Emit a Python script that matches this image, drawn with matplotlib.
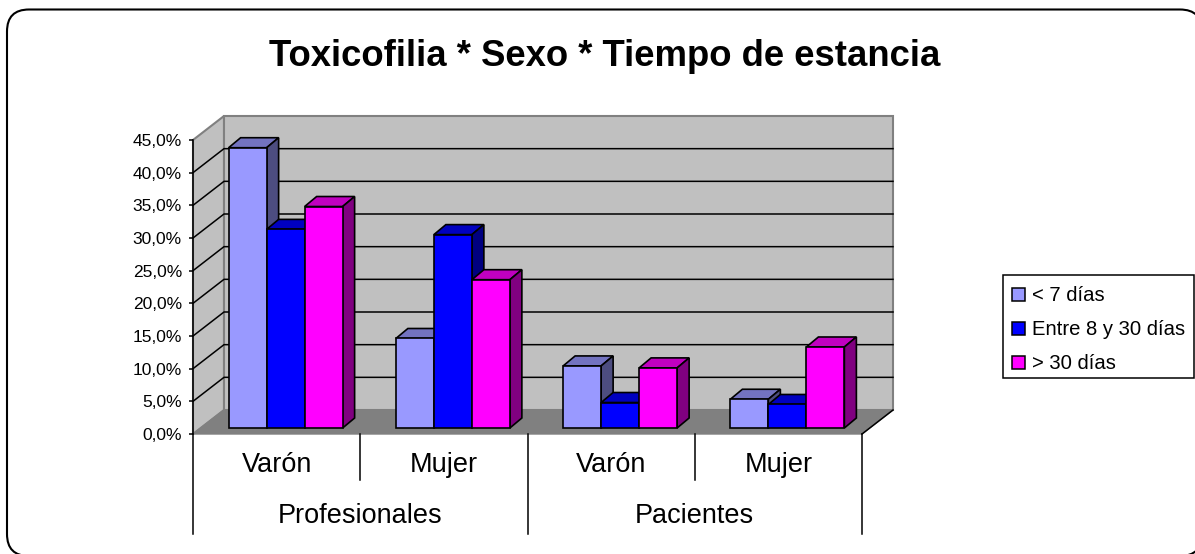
import matplotlib
matplotlib.use('Agg')
import matplotlib.pyplot as plt
from matplotlib.patches import Polygon, Rectangle, BoxStyle
from matplotlib.transforms import IdentityTransform

W, H = 1195, 554

groups = ['Profesionales', 'Pacientes']
sexes = ['Varón', 'Mujer', 'Varón', 'Mujer']
series_names = ['< 7 días', 'Entre 8 y 30 días', '> 30 días']
menos_7 = [42.9, 13.7, 9.5, 4.4]
entre_8_30 = [30.4, 29.6, 3.9, 3.6]
mas_30 = [33.9, 22.7, 9.2, 12.4]
yticks = [0, 5, 10, 15, 20, 25, 30, 35, 40, 45]
ytick_labels = ['0,0%', '5,0%', '10,0%', '15,0%', '20,0%', '25,0%', '30,0%', '35,0%', '40,0%', '45,0%']

# front, top, side colours of each series
colors = [('#9999FF', '#7373C0', '#4D4D80'),
          ('#0000FF', '#0000C0', '#000080'),
          ('#FF00FF', '#C000C0', '#800080')]

plt.rcParams['font.family'] = ['Liberation Sans', 'DejaVu Sans']

fig = plt.figure(figsize=(W / 100, H / 100), dpi=100)
# the axes is the front plane of the 3d box
left, right, bottom, top = 193, 862, 434, 140
ax = fig.add_axes([left / W, 1 - bottom / H, (right - left) / W, (bottom - top) / H])
ax.set_xlim(0, 4)
ax.set_ylim(0, 45)
ax.patch.set_visible(False)

# pixel to data sizes
px = 4 / (right - left)
py = 45 / (bottom - top)
dx, dy = 31 * px, 24 * py  # depth of the box
bx, by = 12 * px, 10 * py  # depth of one bar
off_x, off_y = 9 * px, 6 * py  # bars sit a bit inside the floor
bar_w = 38 * px


def poly(points, fc, ec='none', lw=0, z=1):
    ax.add_patch(Polygon(points, closed=True, facecolor=fc, edgecolor=ec, linewidth=lw,
                         zorder=z, clip_on=False, joinstyle='miter'))


# walls and floor
poly([(0, 0), (dx, dy), (dx, 45 + dy), (0, 45)], '#C0C0C0', '#808080', 1.5)
poly([(dx, dy), (4 + dx, dy), (4 + dx, 45 + dy), (dx, 45 + dy)], '#C0C0C0', '#808080', 1.5)
poly([(0, 0), (dx, dy), (4 + dx, dy), (4, 0)], '#808080', '#808080', 1)

# gridlines on the walls
for t in yticks[1:-1]:
    ax.plot([0, dx, 4 + dx], [t, t + dy, t + dy], color='black', lw=1.1, zorder=2, clip_on=False)
ax.plot([4, 4 + dx], [0, dy], color='black', lw=1.1, zorder=2, clip_on=False)

# bars, back to front from left to right
for i in range(4):
    vals = [menos_7[i], entre_8_30[i], mas_30[i]]
    x0 = i + 0.5 + off_x - 1.5 * bar_w
    for j, v in enumerate(vals):
        xa = x0 + j * bar_w
        xb = xa + bar_w
        base = off_y
        front, top_c, side = colors[j]
        z = 3 + i + j * 0.1
        poly([(xa, v + base), (xa + bx, v + base + by), (xb + bx, v + base + by), (xb, v + base)],
             top_c, 'black', 1.2, z)
        poly([(xb, base), (xb + bx, base + by), (xb + bx, v + base + by), (xb, v + base)],
             side, 'black', 1.2, z)
        ax.bar(xa, v, width=bar_w, bottom=base, align='edge', color=front, edgecolor='black',
               linewidth=1.2, zorder=z + 0.01, clip_on=False)

# y axis
ax.set_yticks(yticks)
ax.set_yticklabels(ytick_labels, fontsize=12.5, color='black')
ax.tick_params(axis='y', length=3, width=1.1, pad=5)
ax.set_xticks([])
for s in ['top', 'right', 'bottom']:
    ax.spines[s].set_visible(False)
ax.spines['left'].set_linewidth(1.1)
ax.spines['left'].set_zorder(2.5)

# two level category axis
lvl1 = 46 * py
lvl2 = 100 * py
for x in [0, 2, 4]:
    ax.plot([x, x], [0, -lvl2], color='black', lw=1.1, clip_on=False)
for x in [1, 3]:
    ax.plot([x, x], [0, -lvl1], color='black', lw=1.1, clip_on=False)
for i, name in enumerate(sexes):
    ax.text(i + 0.5, -31 * py, name, ha='center', va='center', fontsize=19.5)
for i, name in enumerate(groups):
    ax.text(2 * i + 1, -82 * py, name, ha='center', va='center', fontsize=19.5)

# outer rounded frame, runs off the canvas on the right and at the bottom
# flattened to a polygon, agg bends the curves badly when they leave the canvas
frame = BoxStyle('Round', pad=0, rounding_size=22)(7, H - 556, 1195, 546.5, 1)
fig.add_artist(Polygon(frame.to_polygons()[0], closed=True, transform=IdentityTransform(),
                       facecolor='none', edgecolor='black', linewidth=1.5))

fig.text(604.5 / W, 1 - 56 / H, 'Toxicofilia * Sexo * Tiempo de estancia', ha='center', va='center',
         fontsize=26.3, fontweight='bold')

# legend box, placed by hand because the rows are not centred in it
fig.add_artist(Rectangle((1003, H - 378), 191, 103, transform=IdentityTransform(),
                         facecolor='white', edgecolor='black', linewidth=1.1))
for j, name in enumerate(series_names):
    base_y = 301 + 34 * j
    fig.add_artist(Rectangle((1012, H - base_y), 13, 13, transform=IdentityTransform(),
                             facecolor=colors[j][0], edgecolor='black', linewidth=1.1))
    fig.text(1032 / W, 1 - base_y / H, name, ha='left', va='baseline', fontsize=14.6)

fig.savefig('out.png', dpi=100)
